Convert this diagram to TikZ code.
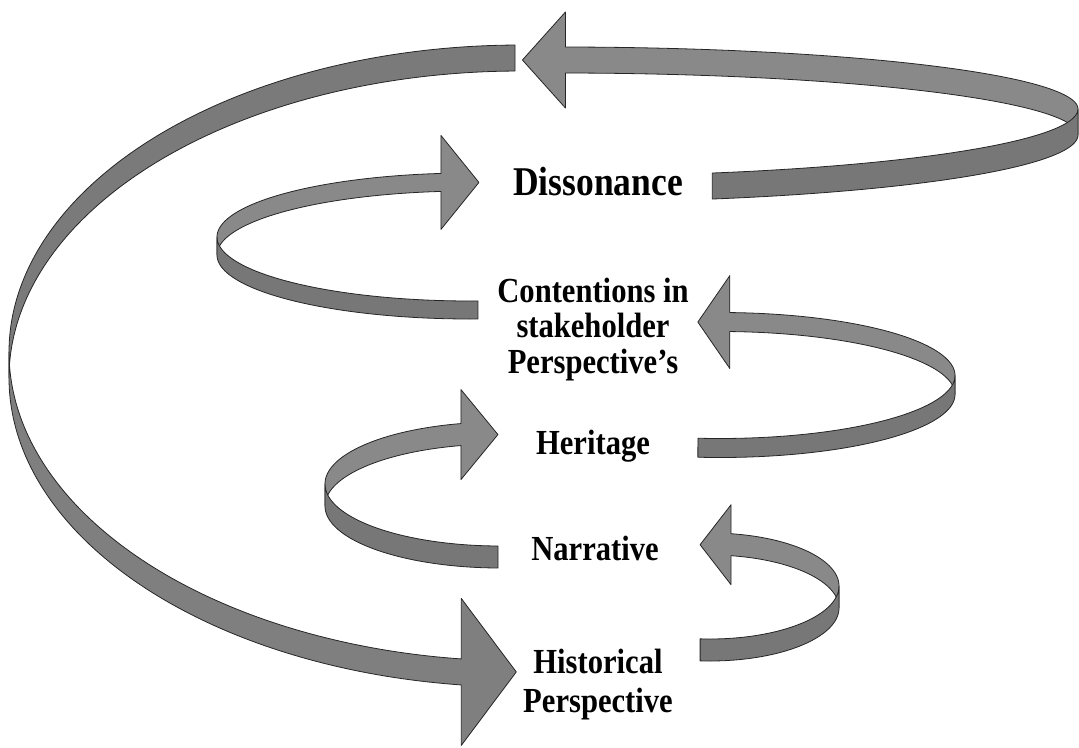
\documentclass[tikz,border=0pt]{standalone}
\usepackage{fontspec}
\setmainfont{Liberation Serif}
\definecolor{facelight}{HTML}{898989}
\definecolor{facedark}{HTML}{777777}
\definecolor{facemid}{HTML}{7F7F7F}

% Ribbon band seen as a strip of a vertical cylinder:
% upper edge on the ellipse centred (cx, cy-h/2), lower edge on (cx, cy+h/2).
% #1 style, #2 cx, #3 cy, #4 a, #5 b, #6 h, #7 start angle, #8 end angle
\newcommand\tailband[8]{%
  \path[#1]
    plot[domain=#7:#8,samples=90] ({#2+#4*cos(\x)},{#3-#6/2+#5*sin(\x)})
    -- plot[domain=#8:#7,samples=90] ({#2+#4*cos(\x)},{#3+#6/2+#5*sin(\x)})
    -- cycle;}

% Same band ending in a triangular head.
% #1 cx, #2 cy, #3 a, #4 b, #5 h, #6 start angle, #7 end angle,
% #8 half height of the head, #9 horizontal offset of the tip
\newcommand\arrowband[9]{%
  \path[arrowface]
    plot[domain=#6:#7,samples=90] ({#1+#3*cos(\x)},{#2-#5/2+#4*sin(\x)})
    -- ({#1+#3*cos(#7)},{#2+#4*sin(#7)-#8})
    -- ({#1+#3*cos(#7)+(#9)},{#2+#4*sin(#7)})
    -- ({#1+#3*cos(#7)},{#2+#4*sin(#7)+#8})
    -- plot[domain=#7:#6,samples=90] ({#1+#3*cos(\x)},{#2+#5/2+#4*sin(\x)})
    -- cycle;}

% slightly tall lettering
\newcommand\tall[1]{\scalebox{1}[1.15]{#1}}

\begin{document}
\begin{tikzpicture}[x=1pt,y=-1pt,
  edge/.style={draw=black!85,line width=0.8pt,line join=round},
  arrowface/.style={edge,fill=facelight},
  tailface/.style={edge,fill=facedark},
  lbl/.style={inner sep=0pt,anchor=base,font=\bfseries\fontsize{30.6}{31.3}\selectfont}]
\useasboundingbox (0,0) rectangle (1079,747);

% outer sweep: from the top round the left side to Historical Perspective
\begin{scope}[arrowface/.style={edge,fill=facemid}]
  \tailband{edge,fill=facemid!96!black}{520}{365}{511}{307}{26}{180}{269.44}
  \arrowband{520}{365}{511}{309}{26}{180}{96.6}{73.5}{55}
\end{scope}

% Dissonance -> top
\arrowband{560}{122}{518}{62}{26}{0}{-89.4}{48}{-43}
\tailband{tailface}{560}{122}{518}{67}{26}{0}{72.9}

% Contentions -> Dissonance
\arrowband{470}{246}{253}{64}{18}{180}{263.4}{47}{38}
\tailband{tailface}{470}{246}{253}{64}{18}{180}{88.2}

% Heritage -> Contentions
\arrowband{720}{385}{235}{63}{19}{0}{-87.6}{46.5}{-32}
\tailband{tailface}{720}{385}{235}{63}{19}{0}{95.4}

% Narrative -> Heritage
\arrowband{500}{495}{175}{62}{22}{180}{257.1}{45}{37}
\tailband{tailface}{500}{495}{175}{62}{22}{180}{90.65}

% Historical Perspective -> Narrative
\arrowband{710}{597}{129}{53}{22}{0}{-80.6}{40}{-31}
\tailband{tailface}{710}{597}{129}{53}{22}{0}{94.4}

% labels
\node[lbl,font=\bfseries\fontsize{35.5}{40}\selectfont] (dis) at (598,195) {\tall{Dissonance}};
\node[lbl] (cont) at (593,302) {\tall{\begin{tabular}[t]{@{}c@{}}Contentions in\\stakeholder\\Perspective’s\end{tabular}}};
\node[lbl] (her) at (593,454) {\tall{Heritage}};
\node[lbl] (nar) at (595,560) {\tall{Narrative}};
\node[lbl,font=\bfseries\fontsize{30.6}{34}\selectfont] (hist) at (598,673) {\tall{\begin{tabular}[t]{@{}c@{}}Historical\\Perspective\end{tabular}}};
\end{tikzpicture}
\end{document}
